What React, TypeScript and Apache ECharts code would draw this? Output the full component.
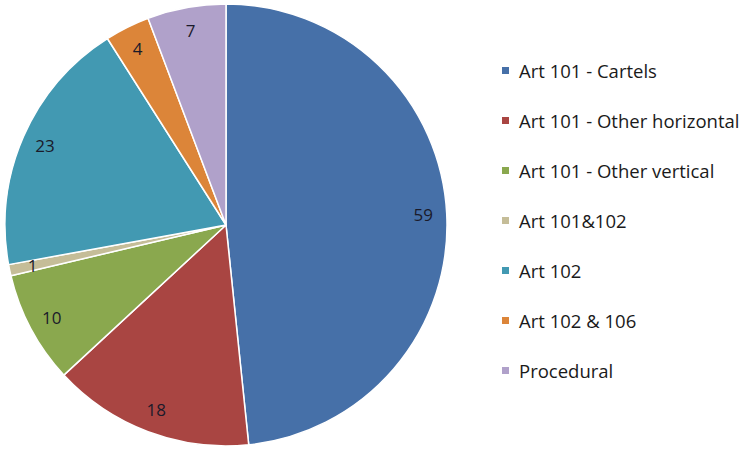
import React, { useEffect, useRef } from "react";
import * as echarts from "echarts";

const categories = [
  "Art 101 - Cartels",
  "Art 101 - Other horizontal",
  "Art 101 - Other vertical",
  "Art 101&102",
  "Art 102",
  "Art 102 & 106",
  "Procedural",
];
const values = [59, 18, 10, 1, 23, 4, 7];
const colors = ["#4670A8", "#A94542", "#8AA84E", "#C5BD98", "#4299B2", "#DC8539", "#B0A1CA"];

export default function App() {
  const ref = useRef<HTMLDivElement>(null);
  useEffect(() => {
    document.body.style.margin = "0";
    const chart = echarts.init(ref.current!, undefined, { renderer: "svg" });
    const data = categories.map((name, i) => ({
      name,
      value: values[i],
      itemStyle: { color: colors[i] },
    }));
    chart.setOption({
      animation: false,
      backgroundColor: "#ffffff",
      legend: {
        orient: "vertical",
        left: 500,
        top: 61,
        padding: 0,
        icon: "rect",
        itemWidth: 9,
        itemHeight: 9,
        itemGap: 31,
        data: categories,
        textStyle: {
          fontFamily: "Open Sans",
          fontSize: 18.5,
          lineHeight: 18,
          color: "#1a1a1a",
          padding: [0, 0, 0, 4],
        },
      },
      series: [
        {
          type: "pie",
          center: [226, 225],
          radius: [0, 221],
          startAngle: 90,
          clockwise: true,
          data,
          label: { show: false },
          labelLine: { show: false },
          itemStyle: { borderColor: "#ffffff", borderWidth: 1.5 },
          emphasis: { disabled: true },
          silent: true,
        },
        {
          type: "pie",
          center: [226, 225],
          radius: [168, 221],
          startAngle: 90,
          clockwise: true,
          data: categories.map((name, i) => ({ name, value: values[i] })),
          itemStyle: { color: "rgba(0,0,0,0)", borderWidth: 0 },
          label: {
            show: true,
            position: "inside",
            formatter: "{c}",
            fontFamily: "Open Sans",
            fontSize: 17,
            color: "#1a1a2a",
          },
          labelLine: { show: false },
          emphasis: { disabled: true },
          silent: true,
        },
      ],
    });
    return () => chart.dispose();
  }, []);
  return <div ref={ref} style={{ width: 747, height: 450 }} />;
}
